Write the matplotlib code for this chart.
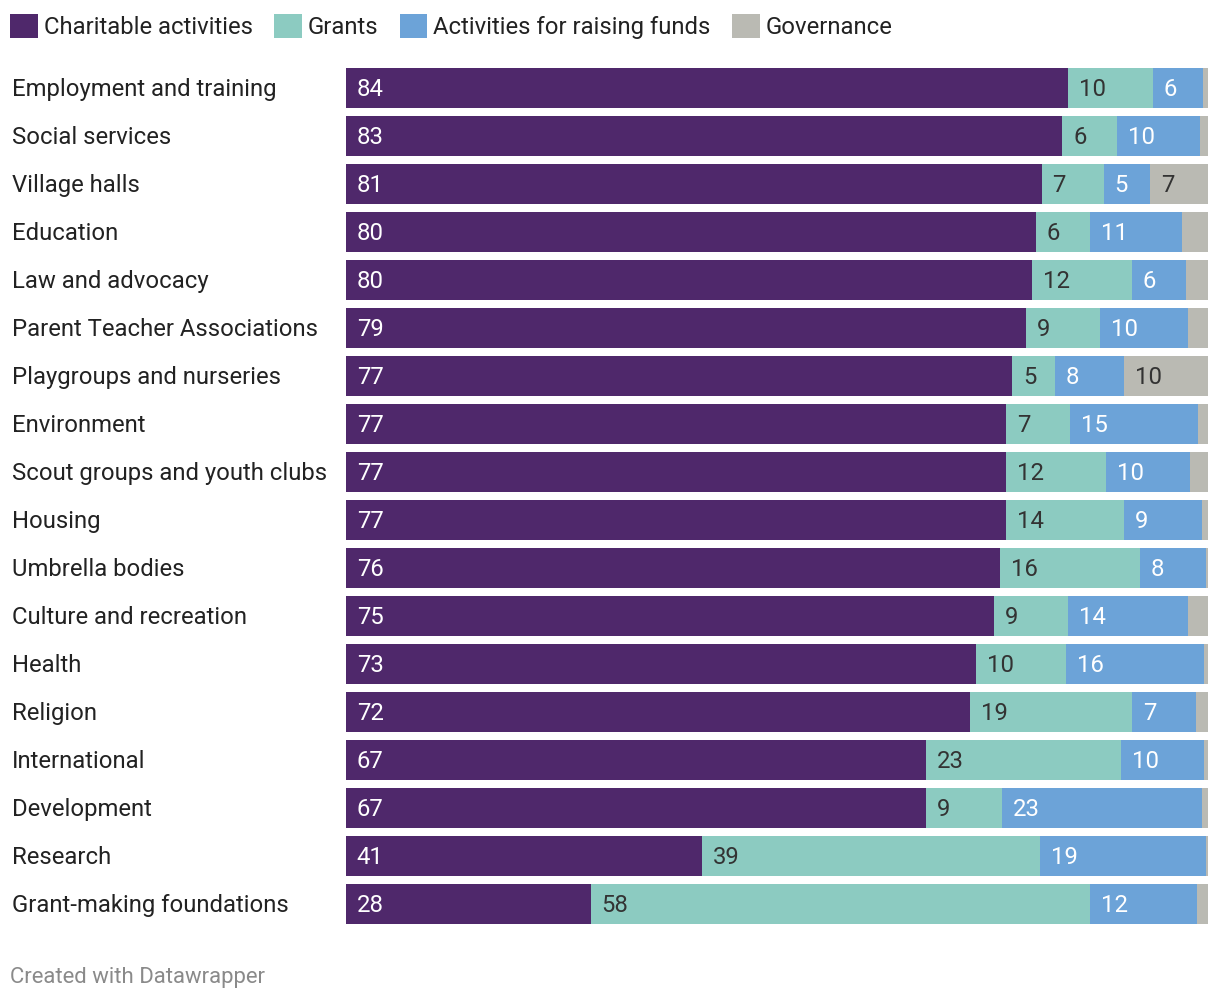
import matplotlib.pyplot as plt
from matplotlib.patches import Patch
from matplotlib.transforms import blended_transform_factory

plt.rcParams['font.family'] = ['Roboto', 'DejaVu Sans']

categories = [
    "Employment and training", "Social services", "Village halls", "Education",
    "Law and advocacy", "Parent Teacher Associations", "Playgroups and nurseries",
    "Environment", "Scout groups and youth clubs", "Housing", "Umbrella bodies",
    "Culture and recreation", "Health", "Religion", "International",
    "Development", "Research", "Grant-making foundations",
]
charitable = [83.8, 83.1, 80.7, 80.0, 79.6, 78.9, 77.3, 76.6, 76.6, 76.6, 75.9, 75.2, 73.1, 72.4, 67.3, 67.3, 41.3, 28.4]
grants = [9.8, 6.4, 7.2, 6.3, 11.6, 8.6, 4.9, 7.4, 11.6, 13.7, 16.2, 8.6, 10.4, 18.8, 22.6, 8.8, 39.2, 57.9]
fundraising = [5.8, 9.6, 5.4, 10.7, 6.3, 10.2, 8.1, 14.8, 9.7, 9.0, 7.7, 13.9, 16.0, 7.4, 9.6, 23.2, 19.3, 12.4]
governance = [0.6, 0.9, 6.7, 3.0, 2.5, 2.3, 9.7, 1.2, 2.1, 0.7, 0.2, 2.3, 0.5, 1.4, 0.5, 0.7, 0.2, 1.3]

series = ["Charitable activities", "Grants", "Activities for raising funds", "Governance"]
colors = ["#4f286b", "#8ccbc1", "#6ca3d8", "#babab3"]
text_colors = ["white", "#333333", "white", "#333333"]

W, H = 1220, 1002
FS = 17.2
fig = plt.figure(figsize=(W / 100, H / 100), dpi=100)
ax = fig.add_axes([346 / W, 1 - 924 / H, (1208 - 346) / W, (924 - 68) / H])

bar_h = 40 / 48
ypos = list(range(len(categories)))
left = [0.0] * len(categories)
for vals, col, tcol in zip([charitable, grants, fundraising, governance], colors, text_colors):
    ax.barh(ypos, vals, left=left, height=bar_h, color=col, linewidth=0)
    for i, v in enumerate(vals):
        if round(v) >= 4:
            ax.text(left[i] + 1.25, i + 0.04, str(round(v)), ha='left', va='center',
                    color=tcol, fontsize=FS)
    left = [l + v for l, v in zip(left, vals)]

ax.set_xlim(0, 100)
ax.set_ylim(len(categories) - 1 + bar_h / 2, -bar_h / 2)
ax.axis('off')

trans = blended_transform_factory(fig.transFigure, ax.transData)
for i, c in enumerate(categories):
    ax.text(12 / W, i + 0.04, c, transform=trans, ha='left', va='center',
            color='#222222', fontsize=FS)

handles = [Patch(facecolor=c, edgecolor='none') for c in colors]
fig.legend(handles, series, loc='upper left', bbox_to_anchor=(10 / W, 1 - 14 / H),
           ncol=4, frameon=False, fontsize=FS, handlelength=1.17, handleheight=1.2,
           handletextpad=0.25, columnspacing=0.88, borderpad=0, borderaxespad=0,
           labelcolor='#222222')

fig.text(10 / W, 1 - 977 / H, "Created with Datawrapper", ha='left', va='center',
         color='#8a8a8a', fontsize=15.9)

fig.savefig("out.png", dpi=100)
